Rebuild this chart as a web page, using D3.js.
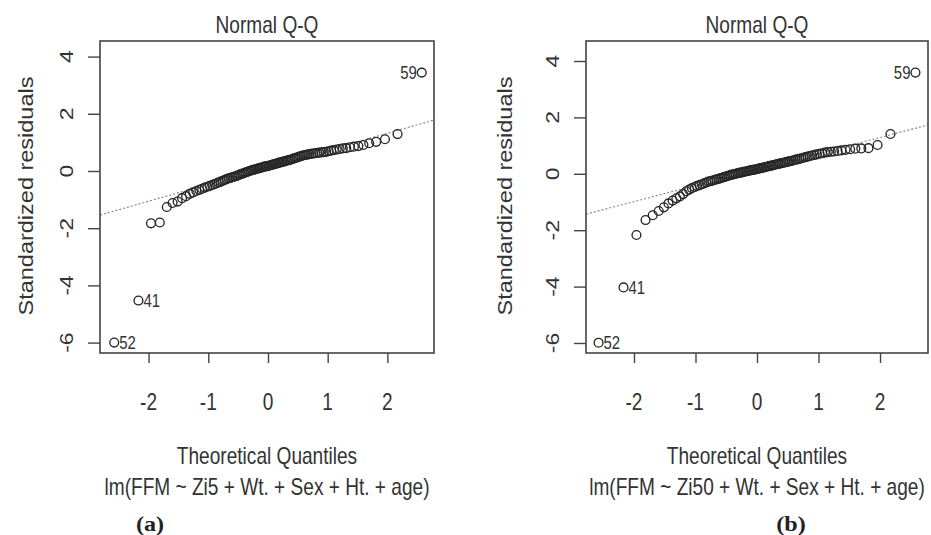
<!DOCTYPE html>
<html><head><meta charset="utf-8">
<script src="https://cdn.jsdelivr.net/npm/d3@7"></script>
<style>body{margin:0;background:#fff}svg{display:block}</style>
</head><body>
<svg id="chart" width="931" height="535"></svg>
<script>
// ---- data ----
const theoQ = [
 -2.5758,-2.1701,-1.9600,-1.8119,-1.6954,-1.5982,-1.5141,-1.4395,-1.3722,-1.3106,
 -1.2536,-1.2004,-1.1503,-1.1031,-1.0581,-1.0152,-0.9741,-0.9346,-0.8965,-0.8596,
 -0.8239,-0.7892,-0.7554,-0.7225,-0.6903,-0.6588,-0.6280,-0.5978,-0.5681,-0.5388,
 -0.5101,-0.4817,-0.4538,-0.4261,-0.3989,-0.3719,-0.3451,-0.3186,-0.2924,-0.2663,
 -0.2404,-0.2147,-0.1891,-0.1637,-0.1383,-0.1130,-0.0878,-0.0627,-0.0376,-0.0125,
  0.0125, 0.0376, 0.0627, 0.0878, 0.1130, 0.1383, 0.1637, 0.1891, 0.2147, 0.2404,
  0.2663, 0.2924, 0.3186, 0.3451, 0.3719, 0.3989, 0.4261, 0.4538, 0.4817, 0.5101,
  0.5388, 0.5681, 0.5978, 0.6280, 0.6588, 0.6903, 0.7225, 0.7554, 0.7892, 0.8239,
  0.8596, 0.8965, 0.9346, 0.9741, 1.0152, 1.0581, 1.1031, 1.1503, 1.2004, 1.2536,
  1.3106, 1.3722, 1.4395, 1.5141, 1.5982, 1.6954, 1.8119, 1.9600, 2.1701, 2.5758
];
const residA = [
 -6.00,-4.53,-1.83,-1.80,-1.26,-1.12,-1.07,-0.95,-0.88,-0.80,
 -0.75,-0.70,-0.66,-0.62,-0.58,-0.55,-0.52,-0.49,-0.46,-0.43,
 -0.40,-0.37,-0.34,-0.31,-0.28,-0.26,-0.24,-0.22,-0.20,-0.18,
 -0.16,-0.13,-0.11,-0.09,-0.07,-0.05,-0.03,-0.01, 0.01, 0.03,
  0.04, 0.06, 0.07, 0.09, 0.10, 0.12, 0.13, 0.15, 0.16, 0.17,
  0.18, 0.20, 0.21, 0.23, 0.24, 0.26, 0.27, 0.29, 0.30, 0.32,
  0.33, 0.35, 0.36, 0.38, 0.39, 0.41, 0.43, 0.45, 0.47, 0.49,
  0.51, 0.53, 0.55, 0.56, 0.57, 0.59, 0.60, 0.61, 0.62, 0.63,
  0.64, 0.65, 0.66, 0.67, 0.69, 0.71, 0.73, 0.75, 0.77, 0.79,
  0.80, 0.83, 0.85, 0.87, 0.91, 0.97, 1.02, 1.11, 1.29, 3.44
];
const residB = [
 -5.99,-4.03,-2.17,-1.64,-1.47,-1.32,-1.19,-1.05,-0.95,-0.87,
 -0.80,-0.72,-0.62,-0.56,-0.51,-0.47,-0.43,-0.40,-0.37,-0.34,
 -0.31,-0.28,-0.26,-0.24,-0.22,-0.20,-0.18,-0.16,-0.14,-0.12,
 -0.10,-0.08,-0.06,-0.04,-0.03,-0.01, 0.00, 0.02, 0.03, 0.04,
  0.05, 0.07, 0.08, 0.09, 0.10, 0.12, 0.13, 0.14, 0.15, 0.16,
  0.17, 0.19, 0.20, 0.21, 0.23, 0.24, 0.25, 0.27, 0.28, 0.29,
  0.31, 0.32, 0.34, 0.35, 0.36, 0.38, 0.39, 0.40, 0.42, 0.43,
  0.45, 0.46, 0.48, 0.50, 0.51, 0.53, 0.55, 0.57, 0.59, 0.61,
  0.63, 0.65, 0.67, 0.69, 0.71, 0.73, 0.75, 0.77, 0.78, 0.79,
  0.81, 0.83, 0.85, 0.87, 0.89, 0.90, 0.91, 1.02, 1.41, 3.59
];
// labelled outliers: [index in sorted arrays, label, side]
const outlierIdx = [0, 1, 99];
const outlierLab = ["52", "41", "59"];
const outlierSide = ["right", "right", "left"];
// reference lines: [intercept, slope]
const refLineA = [0.13, 0.594];
const refLineB = [0.15, 0.568];
const xTicks = [-2, -1, 0, 1, 2];
const yTicks = [-6, -4, -2, 0, 2, 4];
const titleText = "Normal Q-Q";
const xLabel = "Theoretical Quantiles";
const yLabel = "Standardized residuals";
const modelA = "lm(FFM ~ Zi5 + Wt. + Sex + Ht. + age)";
const modelB = "lm(FFM ~ Zi50 + Wt. + Sex + Ht. + age)";
const panelTags = ["(a)", "(b)"];

// ---- layout ----
const SX = 0.83;
const FONT = "'Liberation Sans', Arial, sans-serif";
const TXT = "#333";
const svg = d3.select("#chart");

const panels = [
  {resid: residA, ref: refLineA, model: modelA, tag: panelTags[0],
   box: {l: 100, t: 41, r: 434, b: 353}, xd: [-2.814, 2.781], yd: [-6.364, 4.545],
   ylabX: 33, ytickX: 73, tagX: 150},
  {resid: residB, ref: refLineB, model: modelB, tag: panelTags[1],
   box: {l: 586, t: 41, r: 928, b: 353}, xd: [-2.780, 2.780], yd: [-6.355, 4.709],
   ylabX: 512, ytickX: 559, tagX: 791}
];

function txt(g, x, y, s, o = {}) {
  return g.append("text")
    .attr("transform", `translate(${x},${y}) scale(${o.sx ?? SX},1)` + (o.rot ? ` rotate(${o.rot})` : ""))
    .attr("text-anchor", o.anchor || "middle")
    .attr("font-family", o.family || FONT)
    .attr("font-size", o.size || 23)
    .attr("font-weight", o.weight || "normal")
    .attr("fill", o.fill || TXT)
    .text(s);
}

panels.forEach(p => {
  const g = svg.append("g");
  const x = d3.scaleLinear().domain(p.xd).range([p.box.l, p.box.r]);
  const y = d3.scaleLinear().domain(p.yd).range([p.box.b, p.box.t]);
  const cx = (p.box.l + p.box.r) / 2;

  const cid = "clip" + p.box.l;
  g.append("clipPath").attr("id", cid).append("rect")
    .attr("x", p.box.l).attr("y", p.box.t)
    .attr("width", p.box.r - p.box.l).attr("height", p.box.b - p.box.t);

  // reference line
  const xs = x.domain();
  g.append("line").attr("clip-path", `url(#${cid})`)
    .attr("x1", x(xs[0])).attr("y1", y(p.ref[0] + p.ref[1] * xs[0]))
    .attr("x2", x(xs[1])).attr("y2", y(p.ref[0] + p.ref[1] * xs[1]))
    .attr("stroke", "#8a8a8a").attr("stroke-width", 1.2)
    .attr("stroke-dasharray", "2,2");

  // points
  g.append("g").selectAll("circle").data(theoQ.map((q, i) => [q, p.resid[i]]))
    .join("circle")
    .attr("cx", d => x(d[0])).attr("cy", d => y(d[1])).attr("r", 4.4)
    .attr("fill", "none").attr("stroke", "#262626").attr("stroke-width", 1.35);

  // outlier labels
  outlierIdx.forEach((idx, k) => {
    const px = x(theoQ[idx]), py = y(p.resid[idx]);
    const right = outlierSide[k] === "right";
    txt(g, right ? px + 5 : px - 5, py + 6.5, outlierLab[k],
      {size: 18, anchor: right ? "start" : "end"});
  });

  // box
  g.append("rect").attr("x", p.box.l).attr("y", p.box.t)
    .attr("width", p.box.r - p.box.l).attr("height", p.box.b - p.box.t)
    .attr("fill", "none").attr("stroke", "#444").attr("stroke-width", 1.6);

  // x axis
  const ax = g.append("g").attr("transform", `translate(0,${p.box.b})`)
    .call(d3.axisBottom(x).tickValues(xTicks).tickSize(10).tickSizeOuter(0).tickFormat(d => String(d)));
  ax.select(".domain").remove();
  ax.selectAll(".tick line").attr("stroke", "#444").attr("stroke-width", 1.4);
  ax.selectAll(".tick text").remove();
  xTicks.forEach(t => txt(g, x(t), 410, String(t)));

  // y axis
  const ay = g.append("g").attr("transform", `translate(${p.box.l},0)`)
    .call(d3.axisLeft(y).tickValues(yTicks).tickSize(12).tickSizeOuter(0).tickFormat(d => String(d)));
  ay.select(".domain").remove();
  ay.selectAll(".tick line").attr("stroke", "#444").attr("stroke-width", 1.4);
  ay.selectAll(".tick text").remove();
  yTicks.forEach(t => txt(g, p.ytickX, y(t), String(t), {rot: -90}));

  // titles
  txt(g, cx, 33, titleText);
  txt(g, cx, 464, xLabel);
  txt(g, cx, 495, p.model);
  txt(g, p.ylabX, 196, yLabel, {rot: -90, size: 23.5});
  txt(g, p.tagX, 531, p.tag, {family: "'Liberation Serif', 'Times New Roman', serif", weight: "bold", size: 22, sx: 1.1, fill: "#222"});
});
</script>
</body></html>
